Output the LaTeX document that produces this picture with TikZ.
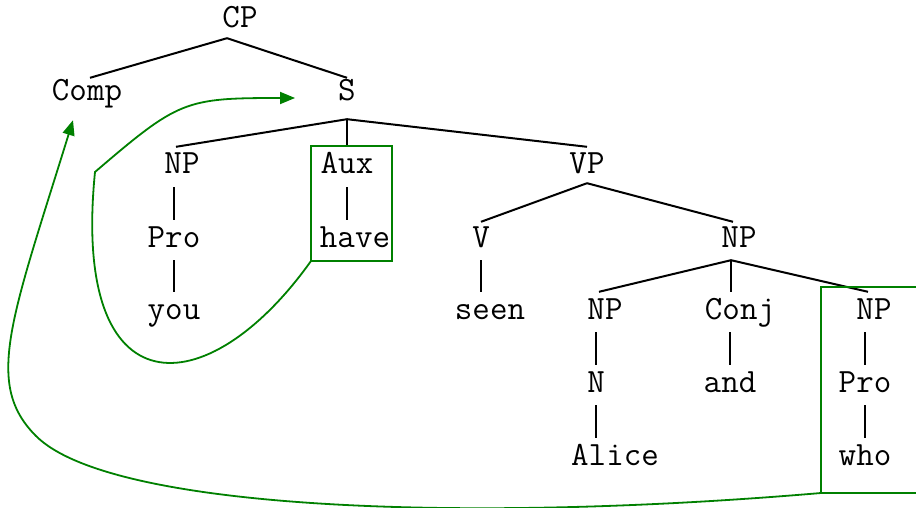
\documentclass[tikz,border=0pt]{standalone}
\usepackage{fontspec}
\usepackage{xcolor}
\usepackage{tikz}
\usetikzlibrary{arrows.meta}
\definecolor{movegreen}{RGB}{0,128,0}

\begin{document}
\begin{tikzpicture}[
  x=1pt, y=-1pt,
  cat/.style={
    anchor=base,
    inner sep=0pt,
    text height=27pt,
    text depth=13pt,
    font=\ttfamily\fontsize{34}{34}\selectfont
  },
  branch/.style={line width=2pt},
  movebox/.style={
    draw=movegreen,
    line width=1.8pt,
    anchor=north west,
    outer sep=0pt
  },
  move/.style={-{Triangle[length=15pt, width=12pt]}, draw=movegreen, line width=1.8pt}
]
  \clip (0,0) rectangle (916,508);

  \node[cat] (cp) at (240,28) {CP};
  \node[cat] (comp) at (87,101) {Comp};
  \node[cat] (s) at (347,101) {S};
  \node[cat] (np1) at (182,174) {NP};
  \node[cat] (aux) at (347,174) {Aux};
  \node[cat] (vp) at (587,174) {VP};
  \node[cat] (pro1) at (174,247) {Pro};
  \node[cat] (have) at (355,247) {have};
  \node[cat] (v) at (481,247) {V};
  \node[cat] (np2) at (739,247) {NP};
  \node[cat] (you) at (174,319) {you};
  \node[cat] (seen) at (490,319) {seen};
  \node[cat] (np3) at (605,319) {NP};
  \node[cat] (conj) at (740,319) {Conj};
  \node[cat] (np4) at (874,319) {NP};
  \node[cat] (n) at (596,392) {N};
  \node[cat] (and) at (730,392) {and};
  \node[cat] (pro2) at (865,392) {Pro};
  \node[cat] (alice) at (615,465) {Alice};
  \node[cat] (who) at (865,465) {who};

  \draw[branch] ([xshift=-13pt,yshift=3pt]cp.south) -- ([xshift=3pt,yshift=-4pt]comp.north);
  \draw[branch] ([xshift=-13pt,yshift=3pt]cp.south) -- ([yshift=-4pt]s.north);
  \draw[branch] ([yshift=-5pt]s.south) -- ([xshift=-6pt]np1.north);
  \draw[branch] ([yshift=-5pt]s.south) -- (aux.north);
  \draw[branch] ([yshift=-5pt]s.south) -- (vp.north);
  \draw[branch] ([xshift=-8pt]np1.south) -- (pro1.north);
  \draw[branch] (pro1.south) -- (you.north);
  \draw[branch] (aux.south) -- ([xshift=-8pt]have.north);
  \draw[branch] ([yshift=4pt]vp.south) -- ([yshift=-2pt]v.north);
  \draw[branch] ([yshift=4pt]vp.south) -- ([xshift=-6pt,yshift=-2pt]np2.north);
  \draw[branch] (v.south) -- ([xshift=-9pt]seen.north);
  \draw[branch] ([xshift=-8pt]np2.south) -- ([xshift=-6pt]np3.north);
  \draw[branch] ([xshift=-8pt]np2.south) -- ([xshift=-9pt]conj.north);
  \draw[branch] ([xshift=-8pt]np2.south) -- ([xshift=-6pt]np4.north);
  \draw[branch] ([xshift=-9pt]np3.south) -- (n.north);
  \draw[branch] ([xshift=-10pt]conj.south) -- (and.north);
  \draw[branch] ([xshift=-9pt]np4.south) -- (pro2.north);
  \draw[branch] (n.south) -- ([xshift=-19pt]alice.north);
  \draw[branch] (pro2.south) -- (who.north);

  % moved constituents
  \node[movebox, minimum width=81pt, minimum height=115pt] (auxbox) at (311,146) {};
  \node[movebox, minimum width=120pt, minimum height=206pt] (npbox) at (821,287) {};

  \draw[move] (auxbox.south west) .. controls +(-104,146) and +(-24,240) .. (95,172)
    .. controls +(84,-72) and +(-110,0) .. ([xshift=-43pt,yshift=-4pt]s.west);
  \draw[move] (npbox.south west) .. controls +(-350,30) and +(75,75) .. (36,436)
    .. controls +(-52,-52) and +(-62,200) .. ([xshift=-14pt,yshift=-6pt]comp.south);
\end{tikzpicture}
\end{document}
